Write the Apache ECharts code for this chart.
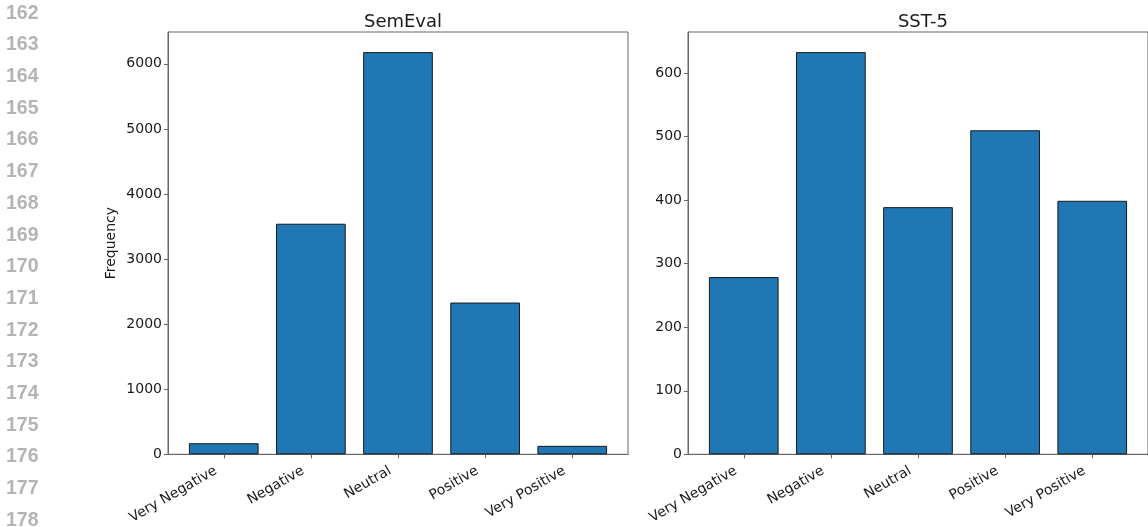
<!DOCTYPE html>
<html>
<head>
<meta charset="utf-8">
<title>Sentiment label distribution</title>
<script src="https://cdn.jsdelivr.net/npm/echarts@6/dist/echarts.min.js"></script>
<style>
  html, body { margin: 0; padding: 0; background: #fff; }
  #chart { width: 1148px; height: 527px; }
</style>
</head>
<body>
<div id="chart"></div>
<script>
// Sentiment classes shared by both datasets
const categories = ['Very Negative', 'Negative', 'Neutral', 'Positive', 'Very Positive'];

// Label counts per dataset
const semevalCounts = [170, 3543, 6180, 2332, 130];
const sst5Counts = [279, 633, 389, 510, 399];

// Tick values on the y axes
const semevalTicks = [0, 1000, 2000, 3000, 4000, 5000, 6000];
const sst5Ticks = [0, 100, 200, 300, 400, 500, 600];

// Manuscript line numbers printed in the margin
const lineNumbers = ['162', '163', '164', '165', '166', '167', '168', '169', '170',
                     '171', '172', '173', '174', '175', '176', '177', '178'];

const FONT = 'DejaVu Sans';
const TEXT = '#1a1a1a';
const FRAME = '#666666';
const catIndex = categories.map((_, i) => i);

function xAxisFor(gridIndex) {
  return {
    type: 'value', gridIndex,
    min: -0.64, max: 4.64,
    axisLine: { show: true, onZero: false, lineStyle: { color: FRAME, width: 1 } },
    axisTick: { show: true, customValues: catIndex, length: 4, lineStyle: { color: FRAME } },
    axisLabel: {
      customValues: catIndex, rotate: 30, margin: 11,
      // right padding pulls the rotated text down-left so its top-right corner sits under the tick
      padding: [0, 9, 0, 0],
      fontFamily: FONT, fontSize: 14, color: TEXT,
      formatter: v => categories[Math.round(v)]
    },
    splitLine: { show: false }
  };
}

function yAxisFor(gridIndex, ticks, max, name) {
  return {
    type: 'value', gridIndex,
    min: 0, max,
    name, nameLocation: 'middle', nameGap: 50,
    nameTextStyle: { fontFamily: FONT, fontSize: 14, color: TEXT },
    axisLine: { show: true, onZero: false, lineStyle: { color: FRAME, width: 1 } },
    axisTick: { show: true, customValues: ticks, length: 4, lineStyle: { color: FRAME } },
    axisLabel: {
      customValues: ticks, margin: 6, fontFamily: FONT, fontSize: 14, color: TEXT,
      formatter: v => String(v)
    },
    splitLine: { show: false }
  };
}

function barSeries(idx, values) {
  return {
    type: 'bar', xAxisIndex: idx, yAxisIndex: idx,
    data: values.map((v, i) => [i, v]),
    barWidth: 69.7,
    itemStyle: { color: '#1f77b4', borderColor: '#1a1a1a', borderWidth: 1 },
    silent: true
  };
}

const chart = echarts.init(document.getElementById('chart'), null, { renderer: 'canvas' });

chart.setOption({
  animation: false,
  backgroundColor: '#ffffff',
  title: [
    { text: 'SemEval', left: 398, top: 8, textAlign: 'center',
      textStyle: { fontFamily: FONT, fontSize: 18, fontWeight: 'normal', color: TEXT } },
    { text: 'SST-5', left: 918, top: 8, textAlign: 'center',
      textStyle: { fontFamily: FONT, fontSize: 18, fontWeight: 'normal', color: TEXT } }
  ],
  grid: [
    { left: 168, top: 32, width: 460, height: 422.3, show: true, borderColor: FRAME, borderWidth: 1, backgroundColor: 'transparent' },
    { left: 688, top: 32, width: 460, height: 422.3, show: true, borderColor: FRAME, borderWidth: 1, backgroundColor: 'transparent' }
  ],
  xAxis: [xAxisFor(0), xAxisFor(1)],
  yAxis: [
    yAxisFor(0, semevalTicks, 6489, 'Frequency'),
    yAxisFor(1, sst5Ticks, 664.65, '')
  ],
  series: [barSeries(0, semevalCounts), barSeries(1, sst5Counts)],
  graphic: lineNumbers.map((t, i) => ({
    type: 'text',
    x: 6, y: 13.3 + i * 31.7,
    silent: true,
    style: {
      text: t,
      font: 'bold 19.5px "Liberation Sans", Arial, sans-serif',
      fill: '#b4b4b4',
      verticalAlign: 'middle'
    }
  }))
});
</script>
</body>
</html>
